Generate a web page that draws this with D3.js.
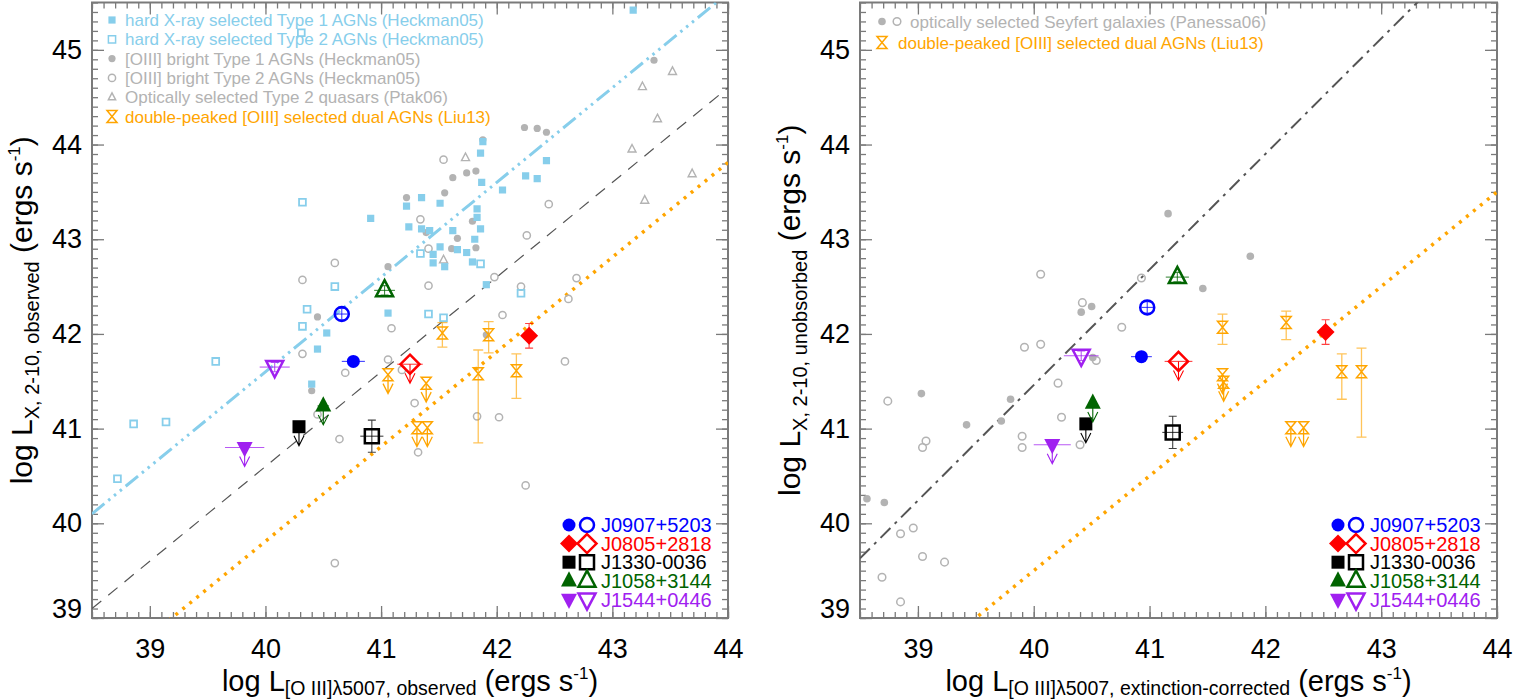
<!DOCTYPE html>
<html>
<head>
<meta charset="utf-8">
<script src="https://cdn.jsdelivr.net/npm/d3@7"></script>
<style>
  body { margin: 0; background: #fff; }
  svg text { font-family: "Liberation Sans", Arial, Helvetica, sans-serif; white-space: pre; }
</style>
</head>
<body>
<svg id="chart" width="1513" height="699"></svg>
<script>

// ---- axes ----
var xDomain = [38.5, 44]
var yDomain = [39, 45.5]
var xTickValues = [39, 40, 41, 42, 43, 44]
var yTickValues = [39, 40, 41, 42, 43, 44, 45]

// ---- left panel: Heckman05 / Ptak06 comparison samples ----
var hardXType1 = [[43.18,45.42],[41.88,44.03],[41.86,43.91],[41.87,43.60],[42.05,43.52],[42.25,43.67],[42.35,43.64],[42.43,43.83],
  [41.35,43.44],[41.22,43.35],[41.51,43.38],[41.83,43.32],[41.83,43.23],[40.91,43.22],[41.24,43.13],[41.35,43.11],[41.42,43.09],
  [41.62,43.09],[41.86,43.11],[41.81,43.00],[41.51,42.92],[41.66,42.89],[41.74,42.86],[41.45,42.84],[41.45,42.75],[41.79,42.76],
  [41.55,42.71],[41.91,42.52],[41.06,42.22],[40.53,42.01],[40.45,41.84],[40.40,41.47]]
var hardXType2 = [[40.31,45.18],[40.32,43.39],[40.60,42.50],[41.34,42.85],[41.86,42.74],[42.21,42.43],[40.36,42.26],[41.41,42.21],
  [41.54,42.17],[40.32,42.08],[39.57,41.71],[38.86,41.05],[39.14,41.07],[38.72,40.47]]
var oiiiType1 = [[41.88,44.05],[41.62,43.65],[41.74,43.70],[41.82,43.72],[41.55,43.49],[41.22,43.44],[41.79,43.19],[41.66,43.01],
  [41.61,42.90],[41.82,42.91],[41.39,43.07],[41.06,42.71],[40.45,42.18],[42.24,44.18],[42.35,44.17],[42.43,44.13],[43.36,44.89],
  [41.91,41.99],[40.40,41.40]]
var oiiiType2 = [[41.54,43.84],[41.34,43.21],[41.41,42.90],[42.26,43.04],[40.60,42.75],[40.32,42.57],[41.41,42.51],[41.98,42.60],
  [42.21,42.50],[42.05,42.20],[42.45,43.37],[42.69,42.59],[42.62,42.37],[42.59,41.71],[41.09,42.06],[40.32,41.79],[41.06,41.73],
  [40.69,41.59],[41.18,41.62],[40.45,41.15],[41.29,41.27],[41.83,41.13],[42.02,41.12],[40.64,40.89],[41.32,40.75],[42.25,40.40],
  [40.60,39.58]]
var ptakType2Qso = [[41.73,43.86],[41.54,42.78],[43.52,44.77],[43.26,44.61],[43.39,44.27],[43.17,43.95],[43.69,43.69],[43.28,43.41]]

// Liu13 double-peaked dual AGNs: [x, y, errDown, errUp] and upper limits [x, y]
var liuObsDetected = [[41.53,42.01,0.15,0.11],[41.93,41.99,0.19,0.14],[41.84,41.58,0.73,0.25],[42.17,41.61,0.29,0.18]]
var liuObsLimits = [[41.06,41.57],[41.39,41.48],[41.31,41.01],[41.40,41.01]]
var liuCorrDetected = [[41.63,42.07,0.18,0.14],[42.18,42.12,0.18,0.12],[42.66,41.60,0.29,0.19],[42.83,41.60,0.69,0.25]]
var liuCorrLimits = [[41.63,41.57],[41.64,41.49],[42.22,41.01],[42.33,41.01]]

// ---- right panel: Panessa06 Seyferts ----
var panessaType1 = [[40.41,42.23],[40.50,42.29],[40.51,41.75],[39.03,41.37],[39.80,41.31],[39.42,41.04],[39.72,41.08],
  [38.56,40.26],[38.71,40.22],[41.46,42.48],[41.16,43.27],[41.87,42.82]]
var panessaType2 = [[40.06,42.63],[40.42,42.33],[40.93,42.59],[40.76,42.07],[39.92,41.86],[40.06,41.89],[40.54,41.72],
  [40.21,41.48],[38.74,41.29],[40.24,41.12],[39.07,40.87],[39.04,40.80],[39.90,40.92],[39.90,40.80],[40.40,40.83],
  [38.85,39.89],[38.96,39.95],[39.04,39.65],[39.23,39.59],[38.69,39.43],[38.85,39.17]]

// ---- our five sources ----
var sourceNames = ["J0907+5203", "J0805+2818", "J1330-0036", "J1058+3144", "J1544+0446"]
var sourceColors = ["#0000ff", "#ff0000", "#000000", "#006400", "#a020f0"]
var sourceShapes = ["circle", "diamond", "square", "triangle", "triangleDown"]
// [x, y, xErr, yErr, upperLimit]
var obsFilled = [[40.76,41.71,0.10,0.03,0],[42.28,41.98,0,0.13,0],[40.29,41.02,0,0,1],[40.50,41.24,0.05,0,1],[39.82,40.80,0.17,0,1]]
var obsOpen = [[40.66,42.21,0.05,0.06,0],[41.25,41.68,0.11,0,1],[40.92,40.92,0.10,0.17,0],[41.03,42.46,0.09,0.05,0],[40.08,41.65,0.13,0.05,0]]
var corrFilled = [[40.93,41.76,0.09,0.04,0],[42.52,42.02,0,0.13,0],[40.45,41.05,0,0,1],[40.51,41.27,0.03,0,1],[40.16,40.83,0.16,0,1]]
var corrOpen = [[40.98,42.28,0.05,0.06,0],[41.25,41.71,0.12,0,1],[41.20,40.96,0.09,0.17,0],[41.24,42.60,0.10,0.05,0],[40.41,41.77,0.15,0.05,0]]

// ---- relations [slope, intercept] ----
var heckType1Rel = [1, 1.6]
var heckType2Rel = [1, 0.6]
var obsCutRel = [1, -0.19]
var panessaRel = [1.22, -7.34]
var corrCutRel = [1, -0.5]

var leftLegend = ["hard X-ray selected Type 1 AGNs (Heckman05)", "hard X-ray selected Type 2 AGNs (Heckman05)",
  "[OIII] bright Type 1 AGNs (Heckman05)", "[OIII] bright Type 2 AGNs (Heckman05)",
  "Optically selected Type 2 quasars (Ptak06)", "double-peaked [OIII] selected dual AGNs (Liu13)"]
var rightLegend = ["optically selected Seyfert galaxies (Panessa06)", "double-peaked [OIII] selected dual AGNs (Liu13)"]

var skyblue = "#87ceeb"
var grey = "#b3b3b3"
var orange = "#ffa500"

var svg = d3.select("#chart")

function markerPath(shape, r) {
	if (shape == "circle") return "M" + r + ",0A" + r + "," + r + " 0 1,1 " + (-r) + ",0A" + r + "," + r + " 0 1,1 " + r + ",0Z"
	if (shape == "square") return "M" + (-r) + "," + (-r) + "H" + r + "V" + r + "H" + (-r) + "Z"
	if (shape == "diamond") return "M0," + (-r) + "L" + r + ",0L0," + r + "L" + (-r) + ",0Z"
	if (shape == "triangle") return "M0," + (-r * 1.2) + "L" + r + "," + (r * 0.7) + "L" + (-r) + "," + (r * 0.7) + "Z"
	if (shape == "triangleDown") return "M0," + (r * 1.2) + "L" + r + "," + (-r * 0.7) + "L" + (-r) + "," + (-r * 0.7) + "Z"
	if (shape == "hourglass") return "M" + (-r) + "," + (-r * 1.2) + "L" + r + "," + (-r * 1.2) + "L" + (-r) + "," + (r * 1.2) + "L" + r + "," + (r * 1.2) + "Z"
}

function arrowPath(cx, cy, len, hw) {
	return "M" + cx + "," + cy + "V" + (cy + len) +
		"M" + (cx - hw) + "," + (cy + len - 10) + "L" + cx + "," + (cy + len) + "L" + (cx + hw) + "," + (cy + len - 10)
}

function richText(sel, parts) {
	parts.forEach(function(p) {
		sel.append("tspan").attr("font-size", p[1]).attr("dy", p[2]).text(p[0])
	})
}

function drawPanel(p) {

	var x = d3.scaleLinear().domain(xDomain).range([p.x0, p.x1])
	var y = d3.scaleLinear().domain(yDomain).range([p.y1, p.y0])

	var g = svg.append("g")

	g.append("clipPath").attr("id", p.id + "clip")
		.append("rect").attr("x", p.x0).attr("y", p.y0).attr("width", p.x1 - p.x0).attr("height", p.y1 - p.y0)

	// axes, ticks on all four sides
	var minorX = d3.range(385, 441).map(function(v) { return v / 10 })
	var minorY = d3.range(390, 456).map(function(v) { return v / 10 })

	var axes = g.append("g").attr("class", "axes")

	axes.append("g").attr("transform", "translate(0," + p.y1 + ")").call(d3.axisBottom(x).tickValues(minorX).tickSize(-6).tickFormat(""))
	axes.append("g").attr("transform", "translate(0," + p.y0 + ")").call(d3.axisTop(x).tickValues(minorX).tickSize(-6).tickFormat(""))
	axes.append("g").attr("transform", "translate(0," + p.y0 + ")").call(d3.axisTop(x).tickValues(xTickValues).tickSize(-12).tickFormat(""))
	axes.append("g").attr("class", "xlab").attr("transform", "translate(0," + p.y1 + ")")
		.call(d3.axisBottom(x).tickValues(xTickValues).tickSize(-12).tickPadding(21).tickFormat(d3.format("d")))

	axes.append("g").attr("transform", "translate(" + p.x0 + ",0)").call(d3.axisLeft(y).tickValues(minorY).tickSize(-6).tickFormat(""))
	axes.append("g").attr("transform", "translate(" + p.x1 + ",0)").call(d3.axisRight(y).tickValues(minorY).tickSize(-6).tickFormat(""))
	axes.append("g").attr("transform", "translate(" + p.x1 + ",0)").call(d3.axisRight(y).tickValues(yTickValues).tickSize(-12).tickFormat(""))
	var yl = axes.append("g").attr("class", "ylab").attr("transform", "translate(" + p.x0 + ",0)")
		.call(d3.axisLeft(y).tickValues(yTickValues).tickSize(-12).tickPadding(10).tickFormat(d3.format("d")))

	// the bottom label sits a little above its tick, as in the original plot
	yl.selectAll(".tick text").filter(function(d) { return d == yDomain[0] }).attr("y", -9)

	axes.selectAll(".domain").remove()
	axes.selectAll(".tick line").attr("stroke", "#7a7a7a").attr("stroke-width", 1.3)
	axes.selectAll(".tick text").attr("font-size", 27).attr("fill", "#000")
		.style("font-family", "'Liberation Sans', Arial, sans-serif")

	g.append("rect")
		.attr("x", p.x0).attr("y", p.y0)
		.attr("width", p.x1 - p.x0).attr("height", p.y1 - p.y0)
		.attr("fill", "none").attr("stroke", "#7a7a7a").attr("stroke-width", 2)

	// relations
	var plot = g.append("g").attr("clip-path", "url(#" + p.id + "clip)")

	var line = d3.line()
		.x(function(d) { return x(d[0]) })
		.y(function(d) { return y(d[1]) })

	p.lines.forEach(function(l) {
		var rel = l.rel
		var pts = xDomain.map(function(v) { return [v, rel[0] * v + rel[1]] })
		plot.append("path")
			.attr("d", line(pts))
			.attr("fill", "none")
			.attr("stroke", l.color)
			.attr("stroke-width", l.width)
			.attr("stroke-dasharray", l.dash)
	})

	// comparison samples
	p.samples.forEach(function(s) {
		plot.selectAll(null)
			.data(s.data)
			.enter()
			.append("path")
			.attr("transform", function(d) { return "translate(" + x(d[0]) + "," + y(d[1]) + ")" })
			.attr("d", markerPath(s.shape, s.r))
			.attr("fill", s.filled ? s.color : "none")
			.attr("stroke", s.filled ? "none" : s.color)
			.attr("stroke-width", s.sw || 1.5)
	})

	// Liu13 detections with error bars
	var liuErr = plot.append("g").attr("stroke", orange).attr("stroke-opacity", 0.65).attr("stroke-width", 1.3).attr("fill", "none")

	p.liuDet.forEach(function(d) {
		var cx = x(d[0]), top = y(d[1] + d[3]), bot = y(d[1] - d[2])
		liuErr.append("path").attr("d", "M" + cx + "," + top + "V" + bot + "M" + (cx - 5) + "," + top + "H" + (cx + 5) + "M" + (cx - 5) + "," + bot + "H" + (cx + 5))
	})

	p.liuLim.forEach(function(d) {
		plot.append("path").attr("d", arrowPath(x(d[0]), y(d[1]), 19, 5))
			.attr("fill", "none").attr("stroke", orange).attr("stroke-width", 1.3)
	})

	plot.selectAll(null)
		.data(p.liuDet.concat(p.liuLim))
		.enter()
		.append("path")
		.attr("transform", function(d) { return "translate(" + x(d[0]) + "," + y(d[1]) + ")" })
		.attr("d", markerPath("hourglass", 5))
		.attr("fill", "none")
		.attr("stroke", orange)
		.attr("stroke-width", 1.5)

	// our sources
	function drawSource(d, i, filled) {
		var color = sourceColors[i]
		var shape = sourceShapes[i]
		var cx = x(d[0]), cy = y(d[1])
		var eg = plot.append("g").attr("stroke", color).attr("stroke-width", 1.1).attr("fill", "none").attr("stroke-opacity", 0.75)
		if (d[2] > 0) {
			eg.append("path").attr("d", "M" + x(d[0] - d[2]) + "," + cy + "H" + x(d[0] + d[2]))
		}
		if (d[3] > 0) {
			var t = y(d[1] + d[3]), b = y(d[1] - d[3])
			eg.append("path").attr("d", "M" + cx + "," + t + "V" + b + "M" + (cx - 4) + "," + t + "H" + (cx + 4) + "M" + (cx - 4) + "," + b + "H" + (cx + 4))
		}
		if (d[4]) {
			eg.append("path").attr("d", arrowPath(cx, cy, 19, 5)).attr("stroke-opacity", 1)
		}
		var r = { circle: 6.5, square: 6.5, diamond: 9, triangle: 8, triangleDown: 8 }[shape]
		plot.append("path")
			.attr("transform", "translate(" + cx + "," + cy + ")")
			.attr("d", markerPath(shape, filled ? r : r + 0.5))
			.attr("fill", filled ? color : "none")
			.attr("stroke", filled ? "none" : color)
			.attr("stroke-width", 2.5)
	}

	p.open.forEach(function(d, i) { drawSource(d, i, false) })
	p.filled.forEach(function(d, i) { drawSource(d, i, true) })

	// source legend (bottom right)
	sourceNames.forEach(function(name, i) {
		var ly = 525 + i * 18.6
		var shape = sourceShapes[i]
		var r = { circle: 6.5, square: 6.5, diamond: 9, triangle: 8, triangleDown: 8 }[shape]
		g.append("path").attr("transform", "translate(" + (p.x1 - 159) + "," + ly + ")")
			.attr("d", markerPath(shape, r)).attr("fill", sourceColors[i])
		g.append("path").attr("transform", "translate(" + (p.x1 - 141) + "," + ly + ")")
			.attr("d", markerPath(shape, r + 0.5)).attr("fill", "none").attr("stroke", sourceColors[i]).attr("stroke-width", 2.5)
		g.append("text").attr("x", p.x1 - 127).attr("y", ly).attr("dy", "0.36em")
			.attr("font-size", 20).attr("fill", sourceColors[i]).text(name)
	})

	// axis titles
	var xt = g.append("text").attr("x", (p.x0 + p.x1) / 2).attr("y", 691).attr("text-anchor", "middle").attr("fill", "#000")
	richText(xt, [["log L", 29, 0], [p.xSub, 19.5, 4], [" (ergs s", 29, -4], ["-1", 17, -12], [")", 29, 12]])

	var yt = g.append("text").attr("transform", "translate(" + (p.x0 - 60) + "," + ((p.y0 + p.y1) / 2) + ") rotate(-90)")
		.attr("text-anchor", "middle").attr("fill", "#000")
	richText(yt, [["log L", 30, 0], [p.ySub, 20, 7], [" (ergs s", 30, -7], ["-1", 17, -12], [")", 30, 12]])

	return g
}

// left panel
var gl = drawPanel({
	id: "left", x0: 92, x1: 728, y0: 2.5, y1: 618,
	xSub: "[O III]\u03bb5007, observed", ySub: "X, 2-10, observed",
	lines: [
		{ rel: heckType2Rel, color: "#555", width: 1.2, dash: "12,9" },
		{ rel: heckType1Rel, color: skyblue, width: 3, dash: "16,5,2.5,5,2.5,5,2.5,5" },
		{ rel: obsCutRel, color: orange, width: 3.5, dash: "3,6" }
	],
	samples: [
		{ data: oiiiType2, shape: "circle", r: 3.6, color: grey, filled: false, sw: 1.5 },
		{ data: ptakType2Qso, shape: "triangle", r: 4, color: grey, filled: false, sw: 1.4 },
		{ data: oiiiType1, shape: "circle", r: 3.6, color: grey, filled: true },
		{ data: hardXType2, shape: "square", r: 3.4, color: skyblue, filled: false, sw: 1.8 },
		{ data: hardXType1, shape: "square", r: 3.6, color: skyblue, filled: true }
	],
	liuDet: liuObsDetected, liuLim: liuObsLimits,
	filled: obsFilled, open: obsOpen
})

// right panel
var gr = drawPanel({
	id: "right", x0: 860, x1: 1497, y0: 2.5, y1: 618,
	xSub: "[O III]\u03bb5007, extinction-corrected", ySub: "X, 2-10, unobsorbed",
	lines: [
		{ rel: panessaRel, color: "#555", width: 2, dash: "14,6,3,6" },
		{ rel: corrCutRel, color: orange, width: 3.5, dash: "3,6" }
	],
	samples: [
		{ data: panessaType2, shape: "circle", r: 3.8, color: grey, filled: false, sw: 1.5 },
		{ data: panessaType1, shape: "circle", r: 3.8, color: grey, filled: true }
	],
	liuDet: liuCorrDetected, liuLim: liuCorrLimits,
	filled: corrFilled, open: corrOpen
})

// top-left legend
var leftLegendShapes = [["square", true], ["square", false], ["circle", true], ["circle", false], ["triangle", false], ["hourglass", false]]
var leftLegendColors = [skyblue, skyblue, grey, grey, grey, orange]

leftLegend.forEach(function(t, i) {
	var ly = 20 + i * 19.3
	var s = leftLegendShapes[i]
	gl.append("path").attr("transform", "translate(112," + ly + ")")
		.attr("d", markerPath(s[0], s[0] == "hourglass" ? 5 : 3.6))
		.attr("fill", s[1] ? leftLegendColors[i] : "none")
		.attr("stroke", s[1] ? "none" : leftLegendColors[i])
		.attr("stroke-width", 1.5)
	gl.append("text").attr("x", 125).attr("y", ly).attr("dy", "0.36em")
		.attr("font-size", 17).attr("fill", leftLegendColors[i]).text(t)
})

// top-right legend
gr.append("path").attr("transform", "translate(882,21.5)").attr("d", markerPath("circle", 3.8)).attr("fill", grey)
gr.append("path").attr("transform", "translate(897,21.5)").attr("d", markerPath("circle", 3.8)).attr("fill", "none").attr("stroke", grey).attr("stroke-width", 1.5)
gr.append("text").attr("x", 910).attr("y", 21.5).attr("dy", "0.36em").attr("font-size", 17).attr("fill", grey).text(rightLegend[0])
gr.append("path").attr("transform", "translate(882,42.5)").attr("d", markerPath("hourglass", 5)).attr("fill", "none").attr("stroke", orange).attr("stroke-width", 1.5)
gr.append("text").attr("x", 898).attr("y", 42.5).attr("dy", "0.36em").attr("font-size", 17).attr("fill", orange).text(rightLegend[1])

</script>
</body>
</html>
